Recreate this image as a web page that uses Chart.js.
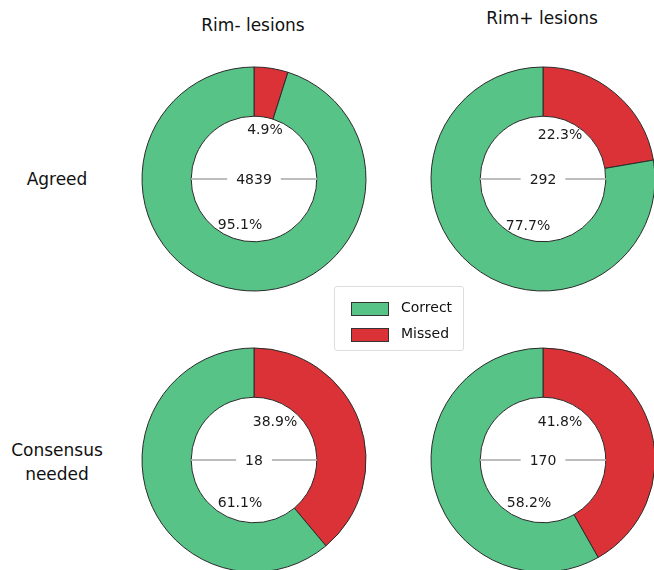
<!DOCTYPE html>
<html>
<head>
<meta charset="utf-8">
<script src="https://cdn.jsdelivr.net/npm/chart.js@4.4.1/dist/chart.umd.min.js"></script>
<style>
  html, body { margin: 0; padding: 0; background: #fff; }
  #wrap { position: relative; width: 654px; height: 570px; overflow: hidden; font-family: "DejaVu Sans", Verdana, sans-serif; color: #111; }
  .lbl { position: absolute; text-align: center; font-size: 17px; line-height: 24px; }
  canvas { position: absolute; }
  #legend { position: absolute; left: 334px; top: 286px; width: 128px; height: 63px; border: 1px solid #ddd; border-radius: 3px; font-size: 14px; }
  #legend .row { position: absolute; left: 16px; height: 16px; }
  #legend .sw { position: absolute; left: 0; top: 1px; width: 36px; height: 12px; border: 1px solid #333; }
  #legend .tx { position: absolute; left: 50px; top: -2px; white-space: nowrap; }
</style>
</head>
<body>
<div id="wrap">
  <div class="lbl" style="left:173px;top:13px;width:160px;">Rim- lesions</div>
  <div class="lbl" style="left:462px;top:6px;width:160px;">Rim+ lesions</div>
  <div class="lbl" style="left:0;top:167px;width:114px;">Agreed</div>
  <div class="lbl" style="left:0;top:438px;width:114px;">Consensus<br>needed</div>

  <canvas id="c0" width="240" height="240" style="left:134px;top:59px;"></canvas>
  <canvas id="c1" width="240" height="240" style="left:423px;top:59px;"></canvas>
  <canvas id="c2" width="240" height="240" style="left:134px;top:340px;"></canvas>
  <canvas id="c3" width="240" height="240" style="left:423px;top:340px;"></canvas>

  <div id="legend"></div>
</div>

<script>
// categories (drawn clockwise from 12 o'clock: Missed first, then Correct)
const categories = ["Missed", "Correct"];
const colors = ["rgb(219, 50, 56)", "rgb(88, 195, 134)"];

// percentages per panel [missed, correct]
const rimNegAgreed = [4.9, 95.1];
const rimPosAgreed = [22.3, 77.7];
const rimNegConsensus = [38.9, 61.1];
const rimPosConsensus = [41.8, 58.2];

// lesion totals shown in the middle
const totals = [4839, 292, 18, 170];

const panels = [rimNegAgreed, rimPosAgreed, rimNegConsensus, rimPosConsensus];

// where the % labels sit, relative to the centre (missed, correct)
const labelPos = [
  [[11, -49], [-14, 46]],
  [[17, -44], [-15, 47]],
  [[21, -38], [-14, 43]],
  [[17, -38], [-14, 43]],
];

// labels + center number
const centerText = {
  id: "centerText",
  afterDraw(chart, args, opts) {
    const ctx = chart.ctx;
    const arc = chart.getDatasetMeta(0).data[0];
    const cx = arc.x, cy = arc.y, r = arc.innerRadius;
    const vals = chart.data.datasets[0].data;

    ctx.save();
    // gray line through the hole
    ctx.strokeStyle = "#bdbdbd";
    ctx.lineWidth = 2;
    ctx.beginPath();
    ctx.moveTo(cx - r, cy);
    ctx.lineTo(cx + r, cy);
    ctx.stroke();

    ctx.font = "14px 'DejaVu Sans', Verdana, sans-serif";
    ctx.textAlign = "center";
    ctx.textBaseline = "middle";
    const t = String(opts.total);
    const w = ctx.measureText(t).width + 18;
    ctx.fillStyle = "#fff";
    ctx.fillRect(cx - w / 2, cy - 9, w, 18);
    ctx.fillStyle = "#1a1a1a";
    ctx.fillText(t, cx, cy + 1);

    const p = opts.pos;
    ctx.font = "14px 'DejaVu Sans', Verdana, sans-serif";
    ctx.fillText(vals[0].toFixed(1) + "%", cx + p[0][0], cy + p[0][1]);
    ctx.fillText(vals[1].toFixed(1) + "%", cx + p[1][0], cy + p[1][1]);
    ctx.restore();
  }
};

panels.forEach((vals, i) => {
  new Chart(document.getElementById("c" + i), {
    type: "doughnut",
    data: {
      labels: categories,
      datasets: [{
        data: vals,
        backgroundColor: colors,
        borderColor: "#2a2a2a",
        borderWidth: 1,
      }],
    },
    options: {
      responsive: false,
      animation: false,
      radius: 112,
      cutout: 67,
      layout: { padding: 0 },
      plugins: {
        legend: { display: false },
        tooltip: { enabled: false },
        centerText: { total: totals[i], pos: labelPos[i] },
      },
    },
    plugins: [centerText],
  });
});

// legend (Correct first, like the reference)
const legend = document.getElementById("legend");
[1, 0].forEach((k, j) => {
  const row = document.createElement("div");
  row.className = "row";
  row.style.top = (14 + j * 26) + "px";
  row.innerHTML = '<div class="sw" style="background:' + colors[k] + '"></div><div class="tx">' + categories[k] + '</div>';
  legend.appendChild(row);
});
</script>
</body>
</html>
